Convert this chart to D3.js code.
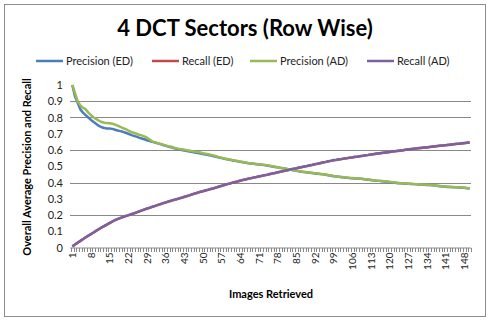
<!DOCTYPE html>
<html><head><meta charset="utf-8">
<script src="https://cdn.jsdelivr.net/npm/d3@7"></script>
<style>body{margin:0;background:#fff}svg{display:block}text{font-family:Lato,"Open Sans",sans-serif}</style>
</head><body>
<svg id="c" width="490" height="320"></svg>
<script>
const title = "4 DCT Sectors (Row Wise)";
const xTitle = "Images Retrieved";
const yTitle = "Overall Average Precision and Recall";
const seriesNames = ["Precision (ED)", "Recall (ED)", "Precision (AD)", "Recall (AD)"];
const categories = d3.range(1, 151);
const xTickLabels = [1,8,15,22,29,36,43,50,57,64,71,78,85,92,99,106,113,120,127,134,141,148];
const yTickLabels = [0,0.1,0.2,0.3,0.4,0.5,0.6,0.7,0.8,0.9,1];
const gridValues = [0.2,0.4,0.6,0.8,0.9];

const precisionED = [1.0,0.93,0.89,0.85,0.83,0.815,0.80,0.785,0.772,0.76,0.748,0.74,0.735,0.733,0.732,0.73,0.725,0.72,0.716,0.712,
0.706,0.70,0.693,0.687,0.682,0.676,0.671,0.666,0.66,0.655,0.65,0.646,0.641,0.636,0.631,0.626,0.621,0.617,0.612,0.608,
0.604,0.60,0.597,0.594,0.591,0.588,0.585,0.582,0.579,0.575,0.572,0.569,0.566,0.562,0.558,0.554,0.55,0.546,0.543,0.540,
0.536,0.533,0.530,0.527,0.524,0.521,0.519,0.517,0.515,0.513,0.511,0.509,0.507,0.505,0.502,0.499,0.496,0.493,0.490,0.487,
0.484,0.481,0.478,0.475,0.472,0.469,0.466,0.464,0.462,0.460,0.458,0.456,0.454,0.452,0.450,0.448,0.445,0.442,0.439,0.437,
0.435,0.433,0.431,0.429,0.427,0.426,0.425,0.424,0.423,0.421,0.419,0.417,0.415,0.413,0.411,0.410,0.408,0.406,0.404,0.402,
0.400,0.398,0.396,0.395,0.394,0.393,0.392,0.391,0.390,0.389,0.388,0.387,0.386,0.385,0.384,0.383,0.381,0.379,0.377,0.375,
0.374,0.373,0.372,0.371,0.370,0.369,0.368,0.367,0.365,0.363];

const precisionAD = [1.0,0.95,0.90,0.875,0.86,0.85,0.83,0.815,0.80,0.79,0.78,0.772,0.768,0.766,0.764,0.762,0.756,0.75,0.742,0.735,
0.728,0.72,0.712,0.706,0.70,0.694,0.69,0.684,0.676,0.664,0.652,0.648,0.642,0.638,0.633,0.628,0.624,0.62,0.615,0.61,
0.607,0.604,0.601,0.598,0.595,0.592,0.59,0.587,0.585,0.58,0.577,0.574,0.57,0.566,0.561,0.556,0.552,0.548,0.545,0.542,
0.538,0.535,0.532,0.529,0.526,0.523,0.52,0.518,0.516,0.514,0.512,0.51,0.508,0.506,0.503,0.50,0.497,0.494,0.491,0.488,
0.485,0.482,0.479,0.476,0.473,0.47,0.467,0.465,0.463,0.461,0.459,0.457,0.455,0.453,0.451,0.449,0.446,0.443,0.44,0.438,
0.436,0.434,0.432,0.43,0.428,0.427,0.426,0.425,0.424,0.422,0.42,0.418,0.416,0.414,0.412,0.411,0.41,0.408,0.406,0.404,
0.402,0.40,0.398,0.396,0.395,0.394,0.393,0.392,0.391,0.39,0.389,0.388,0.387,0.386,0.385,0.384,0.382,0.38,0.378,0.376,
0.375,0.374,0.373,0.372,0.371,0.37,0.369,0.368,0.366,0.364];

const recallED = [0.007,0.018,0.029,0.040,0.051,0.062,0.072,0.082,0.092,0.103,0.113,0.123,0.132,0.141,0.150,0.159,0.168,0.175,0.181,0.187,
0.193,0.198,0.204,0.209,0.215,0.221,0.227,0.233,0.239,0.244,0.250,0.255,0.261,0.266,0.272,0.277,0.282,0.287,0.292,0.296,
0.301,0.306,0.311,0.316,0.321,0.327,0.332,0.337,0.342,0.346,0.351,0.355,0.360,0.364,0.369,0.374,0.379,0.384,0.389,0.393,
0.398,0.402,0.406,0.411,0.415,0.419,0.423,0.426,0.430,0.433,0.437,0.440,0.444,0.447,0.451,0.455,0.458,0.462,0.466,0.469,
0.473,0.476,0.480,0.484,0.487,0.491,0.494,0.498,0.501,0.505,0.508,0.512,0.515,0.519,0.523,0.526,0.530,0.533,0.537,0.539,
0.542,0.544,0.547,0.549,0.552,0.554,0.557,0.559,0.562,0.564,0.567,0.569,0.572,0.574,0.577,0.579,0.581,0.583,0.585,0.587,
0.590,0.592,0.594,0.596,0.598,0.601,0.603,0.605,0.607,0.609,0.611,0.613,0.615,0.616,0.618,0.620,0.622,0.624,0.626,0.627,
0.629,0.631,0.633,0.635,0.637,0.638,0.640,0.642,0.644,0.646];

const recallAD = [0.007,0.018,0.030,0.041,0.052,0.063,0.073,0.083,0.093,0.104,0.114,0.124,0.133,0.142,0.151,0.160,0.169,0.176,0.182,0.188,
0.194,0.199,0.205,0.210,0.216,0.222,0.228,0.234,0.240,0.245,0.251,0.256,0.262,0.267,0.273,0.278,0.283,0.288,0.293,0.297,
0.302,0.307,0.312,0.317,0.322,0.328,0.333,0.338,0.343,0.347,0.352,0.356,0.361,0.365,0.370,0.375,0.380,0.385,0.390,0.394,
0.399,0.403,0.407,0.412,0.416,0.420,0.424,0.427,0.431,0.434,0.438,0.441,0.445,0.448,0.452,0.456,0.459,0.463,0.467,0.470,
0.474,0.477,0.481,0.485,0.488,0.492,0.495,0.499,0.502,0.506,0.509,0.513,0.516,0.520,0.524,0.527,0.531,0.534,0.538,0.540,
0.543,0.545,0.548,0.550,0.553,0.555,0.558,0.560,0.563,0.565,0.568,0.570,0.573,0.575,0.578,0.580,0.582,0.584,0.586,0.588,
0.591,0.593,0.595,0.597,0.599,0.602,0.604,0.606,0.608,0.610,0.612,0.614,0.616,0.617,0.619,0.621,0.623,0.625,0.627,0.628,
0.630,0.632,0.634,0.636,0.638,0.639,0.641,0.643,0.645,0.647];

const colors = ["#4a7ebb","#be4b48","#98b954","#7d60a0"];
const seriesData = [precisionED, recallED, precisionAD, recallAD];

const svg = d3.select("#c");
svg.append("rect").attr("x",4.5).attr("y",4.5).attr("width",481).attr("height",312)
  .attr("fill","#fff").attr("stroke","#8c8c8c").attr("stroke-width",1);

const L = 71, R = 471, T = 85, B = 247.5;
const x = d3.scaleBand().domain(categories).range([L, R]).padding(0);
const y = d3.scaleLinear().domain([0, 1]).range([B, T]);
const cx = d => x(d) + x.bandwidth()/2;

// gridlines
svg.append("g").selectAll("line").data(gridValues).join("line")
  .attr("x1", L-1).attr("x2", R).attr("y1", d => Math.round(y(d))+0.5).attr("y2", d => Math.round(y(d))+0.5)
  .attr("stroke", "#888").attr("stroke-width", 1);

// x axis
const xAxis = d3.axisBottom(x).tickValues(xTickLabels).tickSize(0).tickPadding(0);
const gx = svg.append("g").attr("transform", `translate(0,${B})`).call(xAxis);
gx.select(".domain").attr("stroke","#888").attr("d", `M${L-1},0.5H${R}`);
gx.selectAll(".tick text").attr("transform","rotate(-90)").attr("text-anchor","end")
  .attr("x", -5).attr("y", 0).attr("dy","0.35em")
  .attr("font-family","Lato").attr("font-size", 10).attr("fill","#222");
// category boundary tick marks
const bounds = categories.map(c => x(c)).concat([R]);
svg.append("g").selectAll("line").data(bounds).join("line")
  .attr("x1", d => Math.round(d)+0.5).attr("x2", d => Math.round(d)+0.5)
  .attr("y1", B+0.5).attr("y2", B+4.5).attr("stroke","#888").attr("stroke-width",1);

// y axis labels
const yAxis = d3.axisLeft(y).tickValues(yTickLabels).tickSize(0).tickPadding(0).tickFormat(d3.format("~g"));
const gy = svg.append("g").attr("transform", `translate(63,0)`).call(yAxis);
gy.select(".domain").remove();
gy.selectAll(".tick text").attr("font-family","Lato").attr("font-size", 11).attr("fill","#222");

// lines
const line = d3.line().x((d,i) => cx(categories[i])).y(d => y(d));
seriesData.forEach((s, k) => {
  svg.append("path").datum(s).attr("d", line).attr("fill","none")
    .attr("stroke", colors[k]).attr("stroke-width", 2.5).attr("stroke-linejoin","round");
});

// title
svg.append("text").attr("x", 245).attr("y", 36).attr("text-anchor","middle")
  .attr("font-family","Lato").attr("font-weight","bold").attr("font-size", 22).attr("fill","#000").text(title);

// axis titles
svg.append("text").attr("x", 271).attr("y", 298).attr("text-anchor","middle")
  .attr("font-family","Lato").attr("font-weight","bold").attr("font-size", 11).attr("fill","#000").text(xTitle);
svg.append("text").attr("transform","translate(31,167) rotate(-90)").attr("text-anchor","middle")
  .attr("font-family","Lato").attr("font-weight","bold").attr("font-size", 11).attr("fill","#000").text(yTitle);

// legend
const legendX = [36, 152, 250, 367];
const lg = svg.append("g");
seriesNames.forEach((n, k) => {
  lg.append("line").attr("x1", legendX[k]).attr("x2", legendX[k]+27).attr("y1", 61).attr("y2", 61)
    .attr("stroke", colors[k]).attr("stroke-width", 2.5);
  lg.append("text").attr("x", legendX[k]+30).attr("y", 61).attr("dy","0.35em")
    .attr("font-family","Lato").attr("font-size", 11).attr("fill","#222").text(n);
});
</script>
</body></html>
